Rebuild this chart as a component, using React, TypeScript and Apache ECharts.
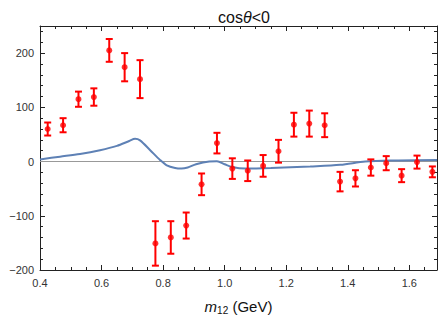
import React, { useEffect, useRef } from "react";
import * as echarts from "echarts";

const massBins = [0.425, 0.475, 0.525, 0.575, 0.625, 0.675, 0.725, 0.775, 0.825, 0.875, 0.925, 0.975, 1.025, 1.075, 1.125, 1.175, 1.225, 1.275, 1.325, 1.375, 1.425, 1.475, 1.525, 1.575, 1.625, 1.675];
const asymValues = [60, 67, 115, 119, 205, 174, 152, -151, -140, -118, -42, 34, -13, -17, -8, 19, 68, 70, 67, -37, -31, -11, -3, -26, -1, -19];
const asymErrors = [12, 13, 14, 16, 21, 26, 35, 41, 30, 24, 20, 19, 19, 19, 20, 21, 22, 24, 22, 18, 15, 15, 13, 12, 12, 10];

const curveX = [0.4, 0.465, 0.53, 0.595, 0.65, 0.69, 0.709, 0.725, 0.758, 0.79, 0.812, 0.839, 0.86, 0.88, 0.907, 0.95, 0.975, 1.0, 1.024, 1.067, 1.15, 1.278, 1.376, 1.457, 1.538, 1.69];
const curveY = [4, 9, 14, 21, 29, 38, 42, 39, 21, 3, -7, -12, -13, -11, -5, 0, 0.5, -5, -10, -13, -12, -9, -6, 0, 2, 3];

const xTicks = [0.4, 0.6, 0.8, 1.0, 1.2, 1.4, 1.6];
const yTicks = [-200, -100, 0, 100, 200];

const FONT = "Liberation Sans, Arial, sans-serif";

export default function App() {
  const ref = useRef<HTMLDivElement>(null);
  useEffect(() => {
    if (!ref.current) return;
    const chart = echarts.init(ref.current, null, { renderer: "svg" });
    const frameColor = "#222";
    const labelColor = "#333";
    const xBase = {
      type: "value",
      min: 0.4,
      max: 1.69,
      interval: 0.2,
      axisLine: { show: true, onZero: false, lineStyle: { color: frameColor, width: 1 } },
      axisTick: { show: true, inside: true, length: 5, lineStyle: { color: frameColor } },
      minorTick: { show: true, splitNumber: 4, length: 3, lineStyle: { color: frameColor } },
      splitLine: { show: false },
    };
    const yBase = {
      type: "value",
      min: -200,
      max: 250,
      interval: 100,
      axisLine: { show: true, onZero: false, lineStyle: { color: frameColor, width: 1 } },
      axisTick: { show: true, inside: true, length: 5, lineStyle: { color: frameColor } },
      minorTick: { show: true, splitNumber: 5, length: 3, lineStyle: { color: frameColor } },
      splitLine: { show: false },
    };
    const errData = massBins.map((x, i) => [x, asymValues[i], asymValues[i] - asymErrors[i], asymValues[i] + asymErrors[i]]);
    chart.setOption({
      animation: false,
      title: {
        text: "cos{i|θ}<0",
        left: 239,
        textAlign: "center",
        top: 4,
        textStyle: {
          fontFamily: FONT,
          fontSize: 16,
          fontWeight: "normal",
          color: "#111",
          rich: { i: { fontStyle: "italic", fontFamily: FONT, fontSize: 16, color: "#111" } },
        },
      },
      grid: { left: 40, right: 2, top: 26, bottom: 47, containLabel: false },
      xAxis: [
        {
          ...xBase,
          position: "bottom",
          axisLabel: {
            show: true,
            margin: 7,
            fontFamily: FONT,
            fontSize: 11,
            color: labelColor,
            showMaxLabel: false,
            formatter: (v: number) => (xTicks.some((t) => Math.abs(t - v) < 1e-6) ? v.toFixed(1) : ""),
          },
          name: "{i|m}{s|12} (GeV)",
          nameLocation: "middle",
          nameGap: 27,
          nameTextStyle: {
            fontFamily: FONT,
            fontSize: 15,
            color: "#111",
            rich: {
              i: { fontStyle: "italic", fontFamily: FONT, fontSize: 15, color: "#111" },
              s: { fontFamily: FONT, fontSize: 10, color: "#111", verticalAlign: "bottom", padding: [8, 0, 0, 0] },
            },
          },
        },
        { ...xBase, position: "top", axisLabel: { show: false } },
      ],
      yAxis: [
        {
          ...yBase,
          position: "left",
          axisLabel: {
            show: true,
            margin: 6,
            fontFamily: FONT,
            fontSize: 11,
            color: labelColor,
            showMaxLabel: false,
            formatter: (v: number) => (yTicks.includes(v) ? (v < 0 ? "\u2212" + Math.abs(v) : String(v)) : ""),
          },
        },
        { ...yBase, position: "right", axisLabel: { show: false } },
      ],
      series: [
        {
          type: "line",
          data: curveX.map((x, i) => [x, curveY[i]]),
          smooth: 0.3,
          showSymbol: false,
          lineStyle: { color: "#5E81B5", width: 2 },
          z: 2,
          markLine: {
            silent: true,
            symbol: "none",
            label: { show: false },
            lineStyle: { color: "#999", width: 1.2, type: "solid" },
            data: [{ yAxis: 0 }],
            z: 1,
          },
        },
        {
          type: "custom",
          data: errData,
          z: 3,
          renderItem: (params: any, api: any) => {
            const x = api.value(0);
            const lo = api.coord([x, api.value(2)]);
            const hi = api.coord([x, api.value(3)]);
            const c = 3.5;
            const style = { stroke: "#FF0000", lineWidth: 2 };
            return {
              type: "group",
              children: [
                { type: "line", shape: { x1: lo[0], y1: lo[1], x2: hi[0], y2: hi[1] }, style },
                { type: "line", shape: { x1: lo[0] - c, y1: lo[1], x2: lo[0] + c, y2: lo[1] }, style },
                { type: "line", shape: { x1: hi[0] - c, y1: hi[1], x2: hi[0] + c, y2: hi[1] }, style },
              ],
            };
          },
        },
        {
          type: "scatter",
          data: massBins.map((x, i) => [x, asymValues[i]]),
          symbol: "circle",
          symbolSize: 6,
          itemStyle: { color: "#FF0000" },
          z: 4,
        },
      ],
    });
    return () => chart.dispose();
  }, []);
  return <div ref={ref} style={{ width: 439, height: 320, position: "absolute", left: 0, top: 0 }} />;
}
